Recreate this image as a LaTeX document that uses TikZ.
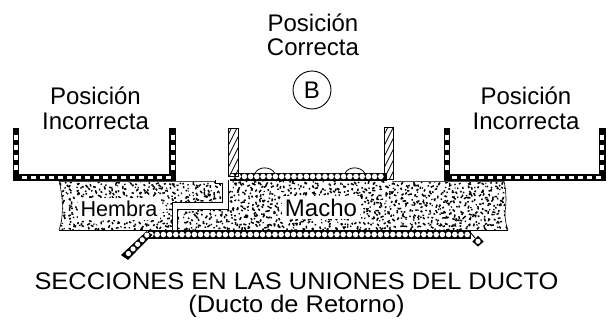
\documentclass[tikz,border=0pt]{standalone}
\usepackage{fontspec}
\usepackage{tikz}
\usetikzlibrary{calc}
\setmainfont{Liberation Sans}
\newfontfamily\ancha[FakeStretch=1.06]{Liberation Sans}

\tikzset{
  rotulo/.style={font=\fontsize{24}{28}\selectfont,inner sep=0pt},
  titulos/.style={font=\ancha\fontsize{24}{28}\selectfont,inner sep=0pt},
  etiqueta/.style={font=\fontsize{24}{28}\selectfont,fill=white,inner sep=3pt},
  ducto/.style={draw=black,line width=.9pt,fill=black},
  hueco/.style={fill=white,draw=none},
  tira/.style={draw=black,line width=.9pt,fill=black},
  bola/.style={fill=white,draw=none},
  perno/.style={draw=black,line width=.8pt,fill=white},
  union/.style={draw=black,line width=1pt},
  brida/.style={draw=black,line width=.9pt},
}

\begin{document}
\begin{tikzpicture}[x=1pt,y=-1pt]
\useasboundingbox (0,0) rectangle (608,321);

% relleno
\path[fill=white] (59,181)--(504,181)..controls (507,195) and (506,205) .. (505,212)..controls (505,220) and (506,225) .. (508,230)--(59,230)..controls (63,220) and (64,200) .. (59,181)--cycle;
\begin{scope}
\clip (59,181)--(504,181)..controls (507,195) and (506,205) .. (505,212)..controls (505,220) and (506,225) .. (508,230)--(59,230)..controls (63,220) and (64,200) .. (59,181)--cycle;
\pgfmathsetseed{4711}
\foreach \gx in {58,62,...,508}{
  \foreach \gy in {181,185,...,229}{
    \pgfmathsetmacro\px{\gx+4*rnd}
    \pgfmathsetmacro\py{\gy+4*rnd}
    \pgfmathsetmacro\pa{360*rnd}
    \pgfmathsetmacro\pl{.8+2.6*rnd}
    \draw[line width=1.5pt] (\px,\py)--++(\pa:\pl);
  }
}
\end{scope}
\draw[line width=.9pt,black!70] (59,181)--(228,181) (393,181)--(504,181);
\draw[line width=.9pt] (59,230)--(508,230);
\draw[line width=.6pt] (59,181)..controls (64,200) and (63,220) .. (59,230);
\draw[line width=.6pt] (504,181)..controls (507,195) and (506,205) .. (505,212)..controls (505,220) and (506,225) .. (508,230);

% junta
\fill[white] (215,182)--(222,182)--(222,202)--(172,202)--(172,230)--(177,230)--(177,209)--(228,209)--(228,180)--(215,180)--cycle;
\draw[union] (215,180)--(215,183)--(222,183)--(222,202)--(172,202)--(172,230);
\draw[union] (228,180)--(228,209)--(177,209)--(177,230);

% etiquetas
\node[etiqueta,font=\fontsize{21.6}{24}\selectfont] (hembra) at (119,209) {Hembra};
\node[etiqueta] (macho) at (321,207.5) {Macho};

% ductos incorrectos
\draw[ducto] (13,128)--(18.5,128)--(18.5,174)--(169.5,174)--(169.5,128)--(175.5,128)--(175.5,180)--(13,180)--cycle;
\draw[ducto] (444,128)--(449,128)--(449,174)--(599,174)--(599,128)--(605,128)--(605,180)--(444,180)--cycle;
\foreach \y in {135,145,155,165}{
  \fill[hueco] (14,\y) rectangle (17.5,\y+5);
  \fill[hueco] (170.5,\y) rectangle (174.5,\y+5);
  \fill[hueco] (445,\y) rectangle (448.5,\y+5);
  \fill[hueco] (600,\y) rectangle (604,\y+5);
}
\foreach \x in {22,31,...,166}{
  \fill[hueco] (\x,175.5) rectangle (\x+5,178.5);
}
\foreach \x in {452,461,...,596}{
  \fill[hueco] (\x,175.5) rectangle (\x+5,178.5);
}

% pernos
\draw[perno] (255,173.5)..controls (258,166) and (271,166) .. (275,173.5);
\draw[perno] (345,173.5)..controls (348,166) and (361,166) .. (365,173.5);

% ducto correcto
\draw[tira] (230,173) rectangle (386,180);
\foreach \x in {232,238.2,...,386}{
  \fill[bola] (\x,176.5) circle (2.8pt);
}
\draw[tira] (148,231) rectangle (470,238);
\foreach \x in {151,157.2,...,469}{
  \fill[bola] (\x,234.5) circle (2.8pt);
}
\draw[tira] (146.7,231.7)--(151.7,235)--(128,259.3)--(121.7,255)--cycle;
\foreach \t in {0.05,0.25,0.45,0.65,0.85}{
  \fill[bola] ($(148,234)!\t!(125,257)$) circle (2.6pt);
}
\draw[line width=.9pt] (470,232)--(475,238);
\draw[tira] (478,236.5)--(483,241.5)--(478,246)--(473,241.5)--cycle;
\fill[bola] (478,241.3) circle (2.6pt);

% bridas
\draw[brida] (228.5,128.5) rectangle (238,176);
\begin{scope}
\clip (228.5,128.5) rectangle (238,176);
\foreach \y in {135,146,...,190}{
  \draw[line width=.7pt] (228,\y)--(239,\y-22);
}
\end{scope}
\draw[brida] (384,127.5) rectangle (393,179);
\begin{scope}
\clip (384,127.5) rectangle (393,179);
\foreach \y in {135,146,...,195}{
  \draw[line width=.7pt] (384,\y)--(394,\y-20);
}
\end{scope}

% textos
\node[rotulo] (posB) at (313,23) {Posición};
\node[rotulo] (corB) at (313,47) {Correcta};
\node[rotulo,draw,circle,minimum size=38pt,line width=.9pt] (letraB) at (312,90) {B};
\node[rotulo] (posI) at (95.5,96) {Posición};
\node[rotulo] (incI) at (95.5,121) {Incorrecta};
\node[rotulo] (posD) at (526,96) {Posición};
\node[rotulo] (incD) at (526,121) {Incorrecta};
\node[titulos] (titulo) at (296.5,281) {SECCIONES EN LAS UNIONES DEL DUCTO};
\node[titulos] (subtitulo) at (296.5,306) {(Ducto de Retorno)};
\end{tikzpicture}
\end{document}
